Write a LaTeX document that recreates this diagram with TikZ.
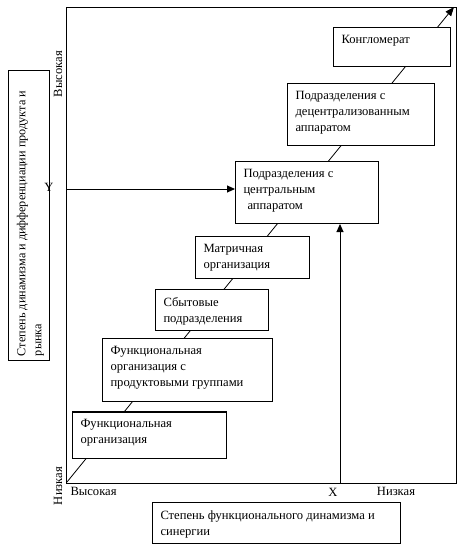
\documentclass[tikz,border=0pt]{standalone}
\usepackage{fontspec}
\setmainfont{Liberation Serif}
\usetikzlibrary{arrows.meta}
\def\orgfont{\fontsize{12.6}{16}\selectfont}
\tikzset{
	orgbox/.style={draw, fill=white, line width=1pt, inner sep=0pt, anchor=north west},
	orgtext/.style={anchor=north west, align=left, inner xsep=8pt, inner ysep=8pt, font=\orgfont},
	axlabel/.style={inner sep=0pt, font=\orgfont},
	arrowline/.style={-{Triangle[length=8pt,width=7pt]}}
}

\begin{document}
\begin{tikzpicture}[x=1pt, y=-1pt, line width=1pt]
	\useasboundingbox (0,0) rectangle (462,549);
	%FRAME
	\node[orgbox, fill=none, minimum width=390, minimum height=476] (frame) at (66,7) {};
	
	%DIAGONAL
	\coordinate (o) at (67,482);
	\coordinate (e) at (454,7);
	\draw[line width=.8pt, -{Triangle[length=9pt,width=7pt]}] (o) -- (e);
	
	%BOXES
	\node[orgbox, minimum width=154, minimum height=47] (funorg) at (72,411) {};
	\draw[line width=2pt] ([yshift=-.5pt]funorg.north west) -- ([yshift=-.5pt]funorg.north east);
	\node[orgbox, minimum width=170, minimum height=63] (funprod) at (102,338) {};
	\node[orgbox, minimum width=113, minimum height=41] (sales) at (155,289) {};
	\node[orgbox, minimum width=114, minimum height=42] (matrix) at (195,236) {};
	\node[orgbox, minimum width=143, minimum height=62] (central) at (235,161) {};
	\node[orgbox, minimum width=147, minimum height=62] (decentral) at (287,83) {};
	\node[orgbox, minimum width=117, minimum height=39] (conglom) at (333,27) {};
	\node[orgbox, minimum width=248, minimum height=41] (xdim) at (152,502) {};
	\node[orgbox, anchor=center, rotate=90, minimum width=290, minimum height=41] (ydim) at (28.5,215) {};
	
	%TEXTS
	\node[orgtext] at (funorg.north west) {Функциональная\\организация};
	\node[orgtext] at (funprod.north west) {Функциональная\\организация с\\продуктовыми группами};
	\node[orgtext] at (sales.north west) {Сбытовые\\подразделения};
	\node[orgtext] at (matrix.north west) {Матричная\\организация};
	\node[orgtext] at (central.north west) {Подразделения с\\центральным\\\hspace{4pt}аппаратом};
	\node[orgtext] at (decentral.north west) {Подразделения с\\децентрализованным\\аппаратом};
	\node[orgtext] at (conglom.north west) {Конгломерат};
	\node[orgtext] at (xdim.north west) {Степень функционального динамизма и\\синергии};
	\node[orgtext, rotate=90, inner xsep=4pt, inner ysep=9pt, font=\fontsize{12.2}{16}\selectfont] at (ydim.north west) {Степень динамизма и дифференциации продукта и\\рынка};
	
	%ARROWS
	\coordinate (ya) at (66,189);
	\draw[arrowline] (ya) -- (ya -| central.west);
	\coordinate (xa) at (340,483);
	\draw[arrowline] (xa) -- (xa |- central.south);
	
	%LABELS
	\node[axlabel] (yname) at (49,187) {Y};
	\node[axlabel, rotate=90] (yhigh) at (58,74) {Высокая};
	\node[axlabel, rotate=90] (ylow) at (58,486) {Низкая};
	\node[axlabel, anchor=west] (xhigh) at (70,491) {Высокая};
	\node[axlabel] (xname) at (333,492) {X};
	\node[axlabel] (xlow) at (396,491) {Низкая};
\end{tikzpicture}
\end{document}
